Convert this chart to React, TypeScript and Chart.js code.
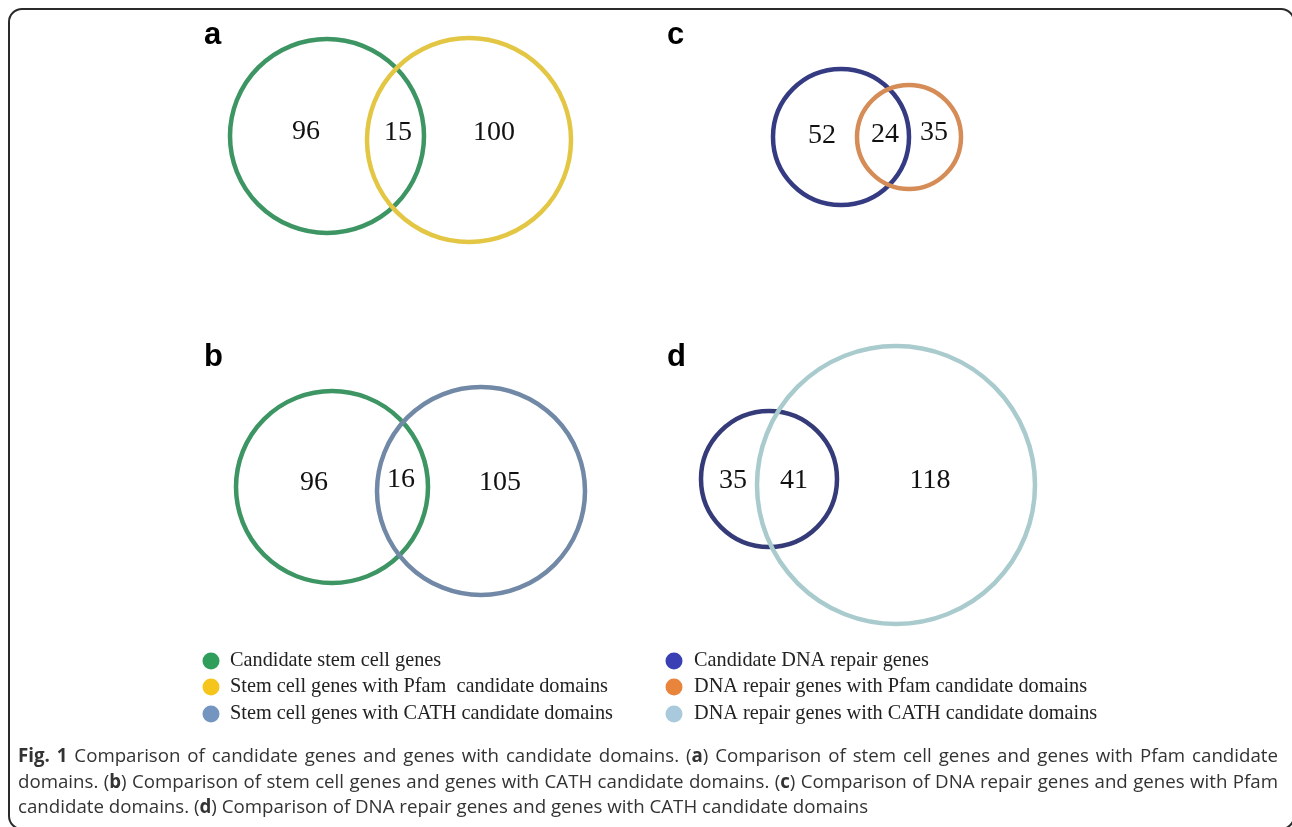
import React, { useEffect, useRef } from "react";
import { Chart, registerables } from "chart.js";

Chart.register(...registerables);

// ---------- data ----------
const panelLetters = ["a", "b", "c", "d"];
const onlyFirst = [96, 96, 52, 35];
const shared = [15, 16, 24, 41];
const onlySecond = [100, 105, 35, 118];

const legendLeft = [
  "Candidate stem cell genes",
  "Stem cell genes with Pfam  candidate domains",
  "Stem cell genes with CATH candidate domains",
];
const legendRight = [
  "Candidate DNA repair genes",
  "DNA repair genes with Pfam candidate domains",
  "DNA repair genes with CATH candidate domains",
];

// ---------- layout (page units = pixels of the figure) ----------
const W = 1292;
const H = 827;

// circle geometry for each panel: [first set, second set]
const circleCx = [327, 469, 332, 481, 841, 909, 769, 896];
const circleCy = [136, 140, 487, 491, 137, 137, 479, 485];
const circleR = [97, 102, 96, 104, 68, 52, 68, 139];
const circleColors = [
  "#3d9563", "#e3c744",
  "#3d9563", "#7189a6",
  "#353b82", "#d58c57",
  "#353b78", "#a9cbcd",
];

const letterX = [204, 204, 667, 667];
const letterY = [44, 366, 44, 366];

// count label positions: [first-only, shared, second-only] per panel
const countX = [[306, 398, 494], [314, 401, 500], [822, 885, 934], [733, 794, 930]];
const countY = [[132, 133, 133], [483, 480, 483], [136, 135, 133], [481, 481, 481]];

const legendDotColorsLeft = ["#2f9e5b", "#f5c51c", "#7395c0"];
const legendDotColorsRight = ["#3a3fb3", "#e8843c", "#a9c9dd"];
const legendRowY = [661, 687, 714];
const legendLeftX = 211;
const legendRightX = 674;

export default function App() {
  const canvasRef = useRef<HTMLCanvasElement | null>(null);

  useEffect(() => {
    const canvas = canvasRef.current;
    if (!canvas) return;

    const circlePts = circleCx.map((x, i) => ({ x, y: circleCy[i] }));
    const legendPts = [
      ...legendRowY.map((y) => ({ x: legendLeftX, y })),
      ...legendRowY.map((y) => ({ x: legendRightX, y })),
    ];
    const legendColors = [...legendDotColorsLeft, ...legendDotColorsRight];

    const pxLen = (chart: any, v: number) =>
      chart.scales.x.getPixelForValue(v) - chart.scales.x.getPixelForValue(0);

    const textPlugin = {
      id: "vennText",
      afterDatasetsDraw(chart: any) {
        const { ctx } = chart;
        const sx = (v: number) => chart.scales.x.getPixelForValue(v);
        const sy = (v: number) => chart.scales.y.getPixelForValue(v);
        ctx.save();
        // panel letters
        ctx.fillStyle = "#000";
        ctx.font = "bold 31px 'Liberation Sans', Arial, sans-serif";
        ctx.textAlign = "left";
        ctx.textBaseline = "alphabetic";
        panelLetters.forEach((l, i) => ctx.fillText(l, sx(letterX[i]), sy(letterY[i])));
        // counts
        ctx.font = "28px 'Liberation Serif', 'Times New Roman', serif";
        ctx.textAlign = "center";
        ctx.textBaseline = "middle";
        ctx.fillStyle = "#111";
        for (let p = 0; p < 4; p++) {
          const vals = [onlyFirst[p], shared[p], onlySecond[p]];
          vals.forEach((v, k) => ctx.fillText(String(v), sx(countX[p][k]), sy(countY[p][k])));
        }
        // legend text
        ctx.font = "20.3px 'Liberation Serif', 'Times New Roman', serif";
        ctx.textAlign = "left";
        ctx.fillStyle = "#222";
        legendLeft.forEach((t, i) => ctx.fillText(t, sx(legendLeftX + 19), sy(legendRowY[i])));
        legendRight.forEach((t, i) => ctx.fillText(t, sx(legendRightX + 20), sy(legendRowY[i])));
        ctx.restore();
      },
    };

    const chart = new Chart(canvas, {
      type: "scatter",
      data: {
        datasets: [
          {
            label: "circles",
            data: circlePts,
            pointStyle: "circle",
            pointRadius: (c: any) => pxLen(c.chart, circleR[c.dataIndex]),
            pointBorderWidth: 4.5,
            pointBorderColor: circleColors,
            pointBackgroundColor: "rgba(0,0,0,0)",
          } as any,
          {
            label: "legend",
            data: legendPts,
            pointStyle: "circle",
            pointRadius: (c: any) => pxLen(c.chart, 8.5),
            pointBorderWidth: 0,
            pointBackgroundColor: legendColors,
            pointBorderColor: legendColors,
          } as any,
        ],
      },
      options: {
        animation: false,
        responsive: false,
        events: [],
        clip: false as any,
        layout: { padding: 0 },
        scales: {
          x: { type: "linear", min: 0, max: W, display: false },
          y: { type: "linear", min: 0, max: H, reverse: true, display: false },
        },
        plugins: { legend: { display: false }, tooltip: { enabled: false } },
      },
      plugins: [textPlugin],
    });
    return () => chart.destroy();
  }, []);

  const b = { fontWeight: 700 } as React.CSSProperties;
  const just = { textAlign: "justify", textAlignLast: "justify" } as React.CSSProperties;

  return (
    <div
      style={{
        position: "fixed",
        left: 0,
        top: 0,
        width: W,
        height: H,
        overflow: "hidden",
        background: "#fff",
      }}
    >
      <canvas ref={canvasRef} width={W} height={H} style={{ position: "absolute", left: 0, top: 0 }} />
      <div
        style={{
          position: "absolute",
          left: 8,
          top: 8,
          width: 1287,
          height: 822,
          border: "2px solid #2a2a2a",
          borderRadius: 14,
          boxSizing: "border-box",
          pointerEvents: "none",
        }}
      />
      <div
        style={{
          position: "absolute",
          left: 18,
          top: 742,
          width: 1260,
          fontFamily: "'Open Sans', sans-serif",
          fontSize: 18.7,
          lineHeight: "25.5px",
          color: "#333",
          whiteSpace: "nowrap",
        }}
      >
        <div style={just}>
          <span style={b}>Fig. 1</span> Comparison of candidate genes and genes with candidate domains. (<span style={b}>a</span>) Comparison of stem cell genes and genes with Pfam candidate
        </div>
        <div style={just}>
          domains. (<span style={b}>b</span>) Comparison of stem cell genes and genes with CATH candidate domains. (<span style={b}>c</span>) Comparison of DNA repair genes and genes with Pfam
        </div>
        <div>
          candidate domains. (<span style={b}>d</span>) Comparison of DNA repair genes and genes with CATH candidate domains
        </div>
      </div>
    </div>
  );
}
